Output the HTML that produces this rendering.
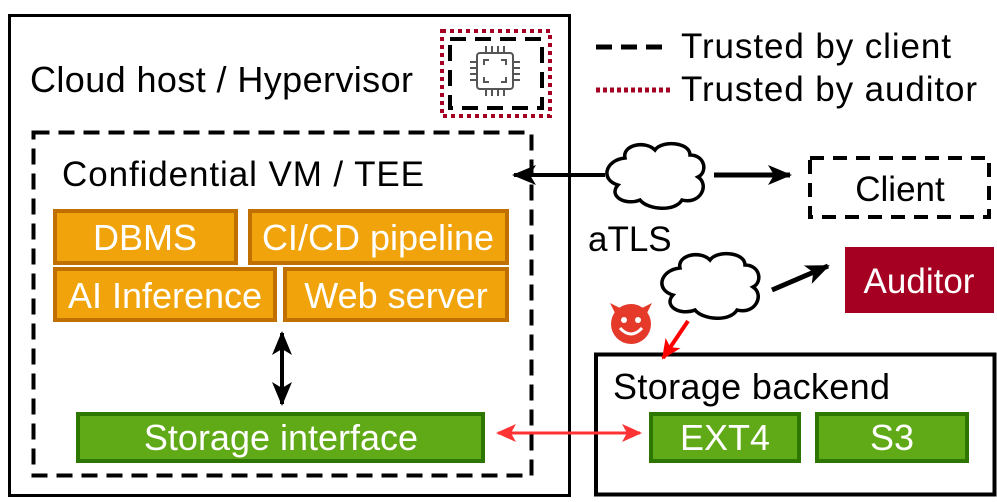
<!DOCTYPE html>
<html><head><meta charset="utf-8"><style>
html,body{margin:0;padding:0;background:#fff;}
svg{display:block;font-family:"Liberation Sans",Arial,sans-serif;}
</style></head><body>
<svg width="997" height="502" viewBox="0 0 997 502" xmlns="http://www.w3.org/2000/svg">
<defs>
<marker id="ab" markerWidth="24" markerHeight="20" refX="22" refY="10" orient="auto-start-reverse" markerUnits="userSpaceOnUse" viewBox="0 0 24 20"><path d="M0,0 L24,10 L0,20 L6,10 Z" fill="#000"/></marker>
<marker id="ar" markerWidth="20" markerHeight="18" refX="18" refY="9" orient="auto-start-reverse" markerUnits="userSpaceOnUse" viewBox="0 0 20 18"><path d="M0,0 L20,9 L0,18 L5,9 Z" fill="#f33"/></marker>
<marker id="ar2" markerWidth="20" markerHeight="18" refX="18" refY="9" orient="auto" markerUnits="userSpaceOnUse" viewBox="0 0 20 18"><path d="M0,0 L20,9 L0,18 L5,9 Z" fill="#f00"/></marker>
</defs>
<rect width="997" height="502" fill="#fff"/>
<rect x="9.5" y="15.5" width="560" height="480" fill="none" stroke="#000" stroke-width="3"/>
<text x="30" y="92" font-size="36" textLength="383">Cloud host / Hypervisor</text>
<rect x="442" y="31" width="108" height="85" fill="none" stroke="#a50021" stroke-width="4" stroke-dasharray="4 4"/>
<rect x="450" y="39" width="92" height="69" fill="none" stroke="#000" stroke-width="4" stroke-dasharray="16 9"/>
<g stroke="#555" stroke-width="2" fill="none">
<rect x="477" y="53" width="36" height="36" rx="3"/>
<path d="M484,65 v-5 h5 M501,60 h5 v5 M506,77 v5 h-5 M489,82 h-5 v-5"/>
<path d="M486,53 v-7 M492,53 v-7 M498,53 v-7 M504,53 v-7 M486,89 v7 M492,89 v7 M498,89 v7 M504,89 v7 M477,62 h-7 M477,68 h-7 M477,74 h-7 M477,80 h-7 M513,62 h7 M513,68 h7 M513,74 h7 M513,80 h7"/>
</g>
<line x1="596" y1="47" x2="670" y2="47" stroke="#000" stroke-width="5" stroke-dasharray="16 9"/>
<text x="681" y="58" font-size="35" textLength="270">Trusted by client</text>
<line x1="596" y1="90" x2="670" y2="90" stroke="#a50021" stroke-width="5" stroke-dasharray="4 3"/>
<text x="681" y="101" font-size="35" textLength="296">Trusted by auditor</text>
<rect x="33.5" y="132.5" width="498" height="343" fill="none" stroke="#000" stroke-width="4" stroke-dasharray="16 9"/>
<text x="62" y="186" font-size="35" textLength="362">Confidential VM / TEE</text>
<g fill="#f0a30a" stroke="#c07000" stroke-width="4">
<rect x="55" y="211" width="181" height="52"/>
<rect x="250" y="211" width="257" height="52"/>
<rect x="55" y="269" width="220" height="51"/>
<rect x="285" y="269" width="222" height="51"/>
</g>
<g fill="#fff" font-size="36" text-anchor="middle">
<text x="145" y="250">DBMS</text>
<text x="378" y="250">CI/CD pipeline</text>
<text x="165" y="308">AI Inference</text>
<text x="396" y="308">Web server</text>
</g>
<line x1="282" y1="333" x2="282" y2="404" stroke="#000" stroke-width="4" marker-start="url(#ab)" marker-end="url(#ab)"/>
<rect x="78" y="414" width="405" height="47" fill="#60a917" stroke="#2d7600" stroke-width="4"/>
<text x="281" y="450" font-size="36" fill="#fff" text-anchor="middle">Storage interface</text>
<rect x="596" y="354.5" width="398.5" height="140" fill="none" stroke="#000" stroke-width="4"/>
<text x="613" y="399" font-size="36" textLength="277">Storage backend</text>
<rect x="651" y="414" width="148" height="47" fill="#60a917" stroke="#2d7600" stroke-width="4"/>
<rect x="817" y="414" width="150" height="47" fill="#60a917" stroke="#2d7600" stroke-width="4"/>
<text x="725" y="450" font-size="36" fill="#fff" text-anchor="middle">EXT4</text>
<text x="892" y="450" font-size="36" fill="#fff" text-anchor="middle">S3</text>
<line x1="498" y1="433" x2="640" y2="433" stroke="#f33" stroke-width="3" marker-start="url(#ar)" marker-end="url(#ar)"/>
<line x1="514" y1="175" x2="605" y2="175" stroke="#000" stroke-width="4" marker-start="url(#ab)"/>
<line x1="714" y1="175" x2="790" y2="175" stroke="#000" stroke-width="5" marker-end="url(#ab)"/>
<path d="M625,158 C622,145 645,140 655,150 C662,140 690,142 690,155 C705,155 708,172 698,177 C710,185 700,205 682,200 C675,212 648,210 640,200 C625,206 608,196 618,185 C600,180 605,160 625,158 Z" fill="#fff" stroke="#000" stroke-width="3.5"/>
<text x="588" y="251" font-size="35">aTLS</text>
<rect x="810" y="158" width="179" height="59" fill="none" stroke="#000" stroke-width="4" stroke-dasharray="14 9"/>
<text x="900" y="201" font-size="35" text-anchor="middle">Client</text>
<path d="M680,268 C677,255 700,250 710,260 C717,250 745,252 745,265 C760,265 763,282 753,287 C765,295 755,315 737,310 C730,322 703,320 695,310 C680,316 663,306 673,295 C655,290 660,270 680,268 Z" fill="#fff" stroke="#000" stroke-width="3.5"/>
<line x1="772" y1="290" x2="828" y2="266" stroke="#000" stroke-width="5" marker-end="url(#ab)"/>
<rect x="845" y="247" width="149" height="66" fill="#a50021"/>
<text x="919" y="293" font-size="35" fill="#fff" text-anchor="middle">Auditor</text>
<g>
<path d="M610,303 L616,315 L622,309 Z M652,303 L646,315 L640,309 Z" fill="#e53a2a"/>
<circle cx="631" cy="324" r="20" fill="#e53a2a"/>
<ellipse cx="624" cy="320" rx="3" ry="3" fill="#fff"/>
<ellipse cx="638" cy="320" rx="3" ry="3" fill="#fff"/>
<path d="M620,328 Q631,340 642,328" stroke="#fff" stroke-width="3" fill="none"/>
</g>
<line x1="688" y1="321" x2="663" y2="358" stroke="#f00" stroke-width="4" marker-end="url(#ar2)"/>
</svg>
</body></html>
